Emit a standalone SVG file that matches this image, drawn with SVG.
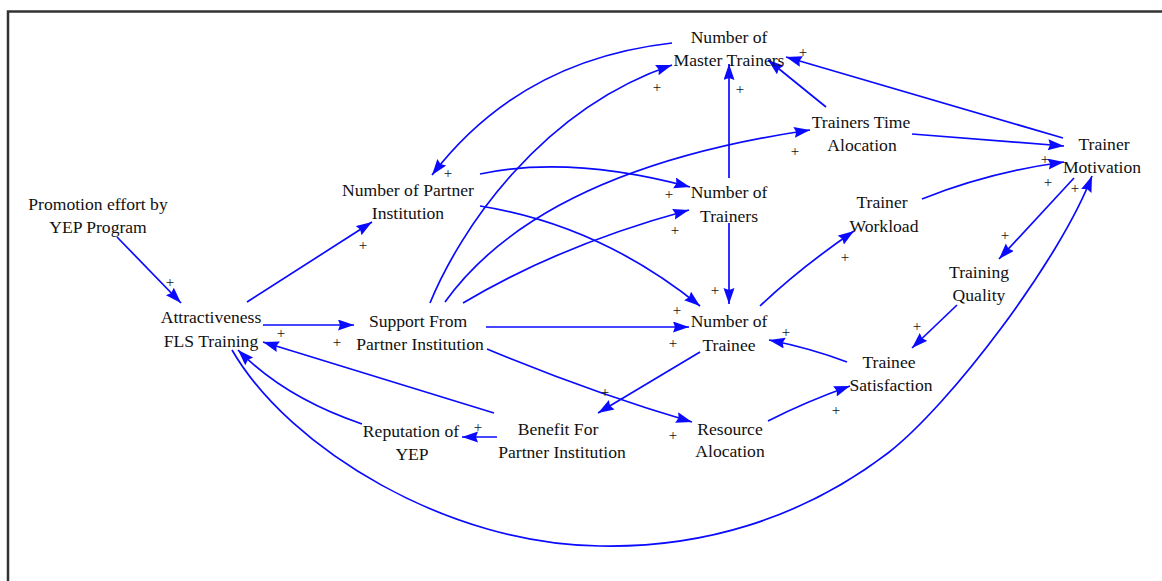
<svg xmlns="http://www.w3.org/2000/svg" width="1162" height="581" viewBox="0 0 1162 581">
  <style>
    .lbl { font-family: "Liberation Serif", "Times New Roman", serif; font-size: 17.6px; fill: #111; text-anchor: middle; }
    .pol { font-family: "Liberation Serif", "Times New Roman", serif; font-size: 15px; fill: #111; text-anchor: middle; }
    .lnk { fill: none; stroke: #0a0aff; stroke-width: 1.7; marker-end: url(#arr); }
    .frame { stroke: #333; stroke-width: 2.5; fill: none; }
  </style>
  <defs>
    <marker id="arr" markerUnits="userSpaceOnUse" markerWidth="18" markerHeight="13" refX="16" refY="5.5" orient="auto">
      <path d="M0,0 L16,5.5 L0,11 L2,5.5 z" fill="#0a0aff"/>
    </marker>
  </defs>
  <rect width="1162" height="581" fill="#fff"/>
  <path class="frame" d="M8,581 L8,11.5 L1162,11.5"/>

  <!-- causal links -->
  <g id="connectors">
    <path class="lnk" d="M117,237 L181,303"/>
    <path class="lnk" d="M247,302 L372,222"/>
    <path class="lnk" d="M263,325 L354,325"/>
    <path class="lnk" d="M494,413 L263,342"/>
    <path class="lnk" d="M362,424 Q285,398 238,350"/>
    <path class="lnk" d="M497,437 L462,437"/>
    <path class="lnk" d="M486,327 L689,327"/>
    <path class="lnk" d="M480,206 Q600,225 700,306"/>
    <path class="lnk" d="M480,174 Q570,155 690,187"/>
    <path class="lnk" d="M672,43 Q520,60 432,175"/>
    <path class="lnk" d="M430,303 C460,230 540,110 672,65"/>
    <path class="lnk" d="M445,302 Q540,170 810,130"/>
    <path class="lnk" d="M463,303 Q560,245 689,210"/>
    <path class="lnk" d="M729,178 L729,64"/>
    <path class="lnk" d="M729,223 L729,304"/>
    <path class="lnk" d="M700,352 L598,413"/>
    <path class="lnk" d="M487,349 Q590,392 692,422"/>
    <path class="lnk" d="M768,421 Q805,402 850,386"/>
    <path class="lnk" d="M847,362 Q810,348 769,340"/>
    <path class="lnk" d="M957,305 L912,348"/>
    <path class="lnk" d="M1074,178 L999,259"/>
    <path class="lnk" d="M922,199 Q990,172 1064,162"/>
    <path class="lnk" d="M912,134 L1064,146"/>
    <path class="lnk" d="M826,107 L768,60"/>
    <path class="lnk" d="M1063,138 L786,57"/>
    <path class="lnk" d="M760,306 Q800,268 854,231"/>
    <path class="lnk" d="M232,350 C290,450 450,545 600,546 C700,548 800,520 888,453 C950,405 1060,260 1092,176"/>
  </g>

  <!-- link polarities -->
  <g id="polarities">
    <text class="pol" x="170" y="287">+</text>
    <text class="pol" x="363" y="250">+</text>
    <text class="pol" x="337" y="347">+</text>
    <text class="pol" x="281" y="338">+</text>
    <text class="pol" x="478" y="432">+</text>
    <text class="pol" x="673" y="348">+</text>
    <text class="pol" x="677" y="315">+</text>
    <text class="pol" x="669" y="199">+</text>
    <text class="pol" x="448" y="178">+</text>
    <text class="pol" x="657" y="92">+</text>
    <text class="pol" x="795" y="156">+</text>
    <text class="pol" x="675" y="235">+</text>
    <text class="pol" x="740" y="94">+</text>
    <text class="pol" x="715" y="295">+</text>
    <text class="pol" x="605" y="397">+</text>
    <text class="pol" x="673" y="440">+</text>
    <text class="pol" x="836" y="415">+</text>
    <text class="pol" x="786" y="337">+</text>
    <text class="pol" x="917" y="331">+</text>
    <text class="pol" x="1005" y="240">+</text>
    <text class="pol" x="1048" y="187">+</text>
    <text class="pol" x="1045" y="164">+</text>
    <text class="pol" x="803" y="57">+</text>
    <text class="pol" x="845" y="262">+</text>
    <text class="pol" x="1075" y="193">+</text>
  </g>

  <!-- variables -->
  <g id="promotion-effort"><text class="lbl" x="98" y="210">Promotion effort by</text><text class="lbl" x="98" y="233">YEP Program</text></g>
  <g id="attractiveness"><text class="lbl" x="211" y="323">Attractiveness</text><text class="lbl" x="211" y="347">FLS Training</text></g>
  <g id="support-partner"><text class="lbl" x="418" y="327">Support From</text><text class="lbl" x="420" y="350">Partner Institution</text></g>
  <g id="partner-institutions"><text class="lbl" x="408" y="196">Number of Partner</text><text class="lbl" x="408" y="219">Institution</text></g>
  <g id="master-trainers"><text class="lbl" x="729" y="43">Number of</text><text class="lbl" x="729" y="66">Master Trainers</text></g>
  <g id="trainers-time"><text class="lbl" x="861" y="128">Trainers Time</text><text class="lbl" x="862" y="151">Alocation</text></g>
  <g id="trainer-motivation"><text class="lbl" x="1104" y="150">Trainer</text><text class="lbl" x="1102" y="173">Motivation</text></g>
  <g id="trainers"><text class="lbl" x="729" y="198">Number of</text><text class="lbl" x="729" y="222">Trainers</text></g>
  <g id="trainer-workload"><text class="lbl" x="882" y="208">Trainer</text><text class="lbl" x="884" y="232">Workload</text></g>
  <g id="training-quality"><text class="lbl" x="979" y="278">Training</text><text class="lbl" x="979" y="301">Quality</text></g>
  <g id="trainee-satisfaction"><text class="lbl" x="889" y="368">Trainee</text><text class="lbl" x="891" y="391">Satisfaction</text></g>
  <g id="trainees"><text class="lbl" x="729" y="327">Number of</text><text class="lbl" x="729" y="351">Trainee</text></g>
  <g id="resource-allocation"><text class="lbl" x="730" y="435">Resource</text><text class="lbl" x="730" y="457">Alocation</text></g>
  <g id="partner-benefit"><text class="lbl" x="558" y="435">Benefit For</text><text class="lbl" x="562" y="458">Partner Institution</text></g>
  <g id="yep-reputation"><text class="lbl" x="411" y="437">Reputation of</text><text class="lbl" x="412" y="460">YEP</text></g>
</svg>
